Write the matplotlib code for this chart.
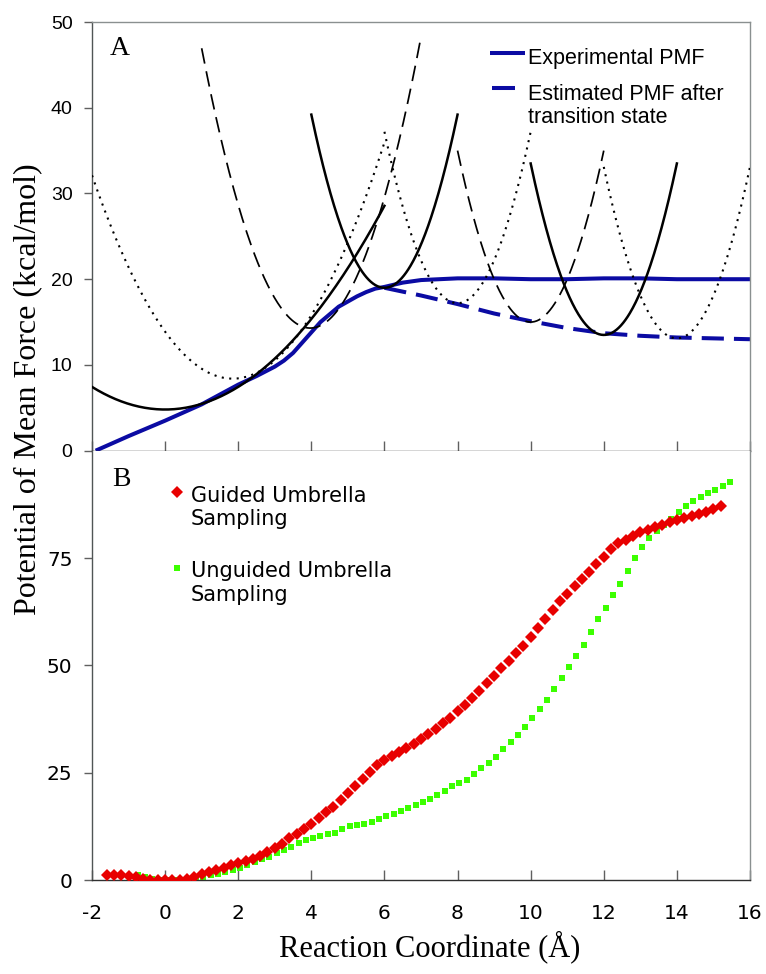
import matplotlib
matplotlib.use("Agg")
import matplotlib.pyplot as plt
import numpy as np

plt.rcParams["axes.unicode_minus"] = False

# ---- panel A: PMF curves (kcal/mol) vs reaction coordinate (A)
exp_x = [-1.9, -1.0, 0.0, 1.0, 2.0, 2.5, 3.0, 3.25, 3.5, 3.75, 4.0, 4.25, 4.5,
         4.75, 5.0, 5.25, 5.5, 5.75, 6.0, 6.5, 7.0, 8.0, 9.0, 10.0, 11.0, 12.0,
         13.0, 14.0, 15.0, 16.0]
exp_y = [0.0, 1.7, 3.5, 5.4, 7.7, 8.7, 9.8, 10.5, 11.4, 12.6, 13.8, 15.0, 15.9,
         16.8, 17.4, 18.0, 18.5, 18.9, 19.1, 19.6, 19.9, 20.1, 20.1, 20.0, 20.0, 20.1,
         20.1, 20.0, 20.0, 20.0]

est_x = [6.0, 7.0, 8.0, 9.0, 10.0, 11.0, 12.0, 13.0, 14.0, 15.0, 16.0]
est_y = [19.0, 18.1, 17.1, 16.0, 15.1, 14.3, 13.7, 13.4, 13.2, 13.1, 13.0]

# umbrella windows (harmonic restraints)
win_center = [0.0, 1.85, 3.97, 6.0, 8.0, 10.0, 12.0, 14.0]
win_min = [4.8, 8.4, 14.3, 19.0, 17.2, 15.0, 13.5, 13.1]
win_k = [0.66, 1.6, 3.7, 5.05, 5.0, 5.0, 5.0, 5.0]
win_lo = [-2.0, -2.0, 1.0, 4.0, 6.0, 8.0, 10.0, 12.0]
win_hi = [6.0, 6.0, 7.0, 8.0, 10.0, 12.0, 14.0, 16.0]
win_style = ["solid", "dotted", "dashed", "solid", "dotted", "dashed", "solid", "dotted"]

# ---- panel B: PMF from guided / unguided umbrella sampling
guided_x0, guided_dx = -1.6, 0.2
guided_y = [1.2, 1.2, 1.1, 1.0, 0.7, 0.3, 0.1, 0.0, 0.0, 0.0,
            0.1, 0.3, 0.8, 1.4, 1.8, 2.3, 2.9, 3.4, 4.0, 4.5,
            5.0, 5.6, 6.6, 7.5, 8.5, 9.7, 10.8, 11.9, 13.1, 14.5,
            15.8, 17.1, 18.6, 20.2, 21.8, 23.5, 25.2, 26.8, 28.0, 28.9,
            29.8, 30.7, 31.6, 32.8, 34.0, 35.2, 36.5, 37.8, 39.3, 40.8,
            42.4, 44.1, 45.8, 47.6, 49.3, 51.0, 52.8, 54.6, 56.5, 58.6,
            60.7, 62.8, 64.9, 66.7, 68.4, 70.1, 71.8, 73.7, 75.3, 77.0,
            78.4, 79.2, 80.2, 81.0, 81.6, 82.2, 82.8, 83.3, 83.8, 84.3,
            84.7, 85.3, 85.8, 86.4, 87.2]

unguided_x0, unguided_dx = -0.75, 0.2
unguided_y = [1.2, 0.6, 0.2, 0.1, 0.0, 0.0, 0.1, 0.3, 0.6, 0.8,
              1.1, 1.4, 1.8, 2.4, 2.9, 3.5, 4.1, 4.8, 5.4, 6.2,
              7.0, 7.8, 8.7, 9.4, 9.9, 10.2, 10.6, 11.0, 11.9, 12.6,
              12.8, 13.0, 13.4, 14.1, 14.8, 15.4, 16.1, 16.7, 17.5, 18.2,
              18.8, 19.7, 20.7, 21.8, 22.5, 23.4, 24.7, 26.0, 27.2, 28.6,
              30.4, 32.1, 33.8, 35.7, 37.8, 39.9, 41.9, 44.4, 47.0, 49.6,
              52.1, 54.8, 57.7, 60.8, 63.4, 66.3, 69.0, 71.9, 74.9, 77.6,
              79.7, 81.4, 82.8, 84.1, 85.6, 87.1, 88.3, 89.2, 90.1, 90.9,
              91.7, 92.6]

x_ticks = [-2, 0, 2, 4, 6, 8, 10, 12, 14, 16]
a_yticks = [0, 10, 20, 30, 40, 50]
b_yticks = [0, 25, 50, 75]

BLUE = "#0b0ba3"
RED = "#e80000"
GREEN = "#3cff00"
SERIF = "Liberation Serif"
ARIAL = "Liberation Sans"
VERD = "DejaVu Sans"

fig = plt.figure(figsize=(7.66, 9.74), dpi=100)
axA = fig.add_axes([0.1201, 0.5373, 0.8590, 0.4401])
axB = fig.add_axes([0.1201, 0.0965, 0.8590, 0.4408])

for ax in (axA, axB):
    ax.set_xlim(-2, 16)
    ax.set_xticks(x_ticks)
    ax.spines["left"].set_color("#505555")
    ax.spines["bottom"].set_color("#303030")
    ax.spines["top"].set_color("#8a9090")
    ax.spines["right"].set_color("#8a9090")
    for s in ax.spines.values():
        s.set_linewidth(1.0)
    ax.tick_params(axis="x", direction="in", length=7, color="#606060", width=1.0)
    ax.tick_params(axis="y", direction="out", length=6, color="#606060", width=1.0, pad=8)

# panel A
axA.set_ylim(0, 50)
axA.set_yticks(a_yticks)
axA.tick_params(axis="x", labelbottom=False)
for lab in axA.get_yticklabels():
    lab.set_fontfamily(ARIAL)
    lab.set_fontsize(14)

for c, m, k, lo, hi, st in zip(win_center, win_min, win_k, win_lo, win_hi, win_style):
    xx = np.linspace(lo, hi, 200)
    yy = m + k * (xx - c) ** 2
    if st == "solid":
        axA.plot(xx, yy, color="black", lw=1.8, zorder=3)
    elif st == "dashed":
        axA.plot(xx, yy, color="black", lw=1.25, dashes=(9, 4.5), zorder=3)
    else:
        axA.plot(xx, yy, color="black", lw=1.5, dashes=(1.0, 2.6), zorder=3)

axA.plot(exp_x, exp_y, color=BLUE, lw=2.9, zorder=2, solid_capstyle="butt")
axA.plot(est_x, est_y, color=BLUE, lw=2.9, dashes=(5.5, 2.5), zorder=2)

# legend A
axA.plot([0.605, 0.658], [0.927, 0.927], transform=axA.transAxes, color=BLUE, lw=2.9,
         solid_capstyle="butt")
axA.plot([0.608, 0.643], [0.847, 0.847], transform=axA.transAxes, color=BLUE, lw=2.9,
         solid_capstyle="butt")
axA.text(0.663, 0.902, "Experimental PMF", transform=axA.transAxes, fontsize=15.5,
         family=ARIAL, va="baseline", ha="left")
# multi-line text: baseline refers to the last line
axA.text(0.663, 0.765, "Estimated PMF after\ntransition state", transform=axA.transAxes,
         fontsize=15.5, family=ARIAL, va="baseline", ha="left", linespacing=1.1)
axA.text(0.0426, 0.939, "A", transform=axA.transAxes, fontsize=20, family=SERIF,
         ha="center", va="center")

# panel B
axB.set_ylim(0, 100)
axB.set_yticks(b_yticks)
axB.spines["top"].set_visible(False)
axB.tick_params(axis="x", pad=17)
for lab in axB.get_yticklabels() + axB.get_xticklabels():
    lab.set_fontfamily(VERD)
    lab.set_fontsize(14.5)

gx = guided_x0 + guided_dx * np.arange(len(guided_y))
ux = unguided_x0 + unguided_dx * np.arange(len(unguided_y))
axB.plot(gx, guided_y, ls="none", marker="D", ms=6.3, mew=0, color=RED, zorder=3)
axB.plot(ux, unguided_y, ls="none", marker="s", ms=5.0, mew=0, color=GREEN, zorder=2)

# legend B
axB.plot([0.1287], [0.903], transform=axB.transAxes, marker="D", ms=6.0, mew=0, color=RED)
axB.plot([0.1287], [0.726], transform=axB.transAxes, marker="s", ms=4.8, mew=0, color=GREEN)
axB.text(0.150, 0.827, "Guided Umbrella\nSampling", transform=axB.transAxes, fontsize=15,
         family=VERD, va="baseline", ha="left", linespacing=1.2)
axB.text(0.150, 0.6506, "Unguided Umbrella\nSampling", transform=axB.transAxes, fontsize=15,
         family=VERD, va="baseline", ha="left", linespacing=1.2)
axB.text(0.0448, 0.934, "B", transform=axB.transAxes, fontsize=20, family=SERIF,
         ha="center", va="center")

fig.text(28 / 766, 1 - 389 / 974, "Potential of Mean Force (kcal/mol)", rotation=90,
         fontsize=23, family=SERIF, ha="center", va="center")
fig.text(430 / 766, 1 - 947 / 974, "Reaction Coordinate (\u00c5)", fontsize=22,
         family=SERIF, ha="center", va="center")

fig.savefig("out.png", dpi=100)
